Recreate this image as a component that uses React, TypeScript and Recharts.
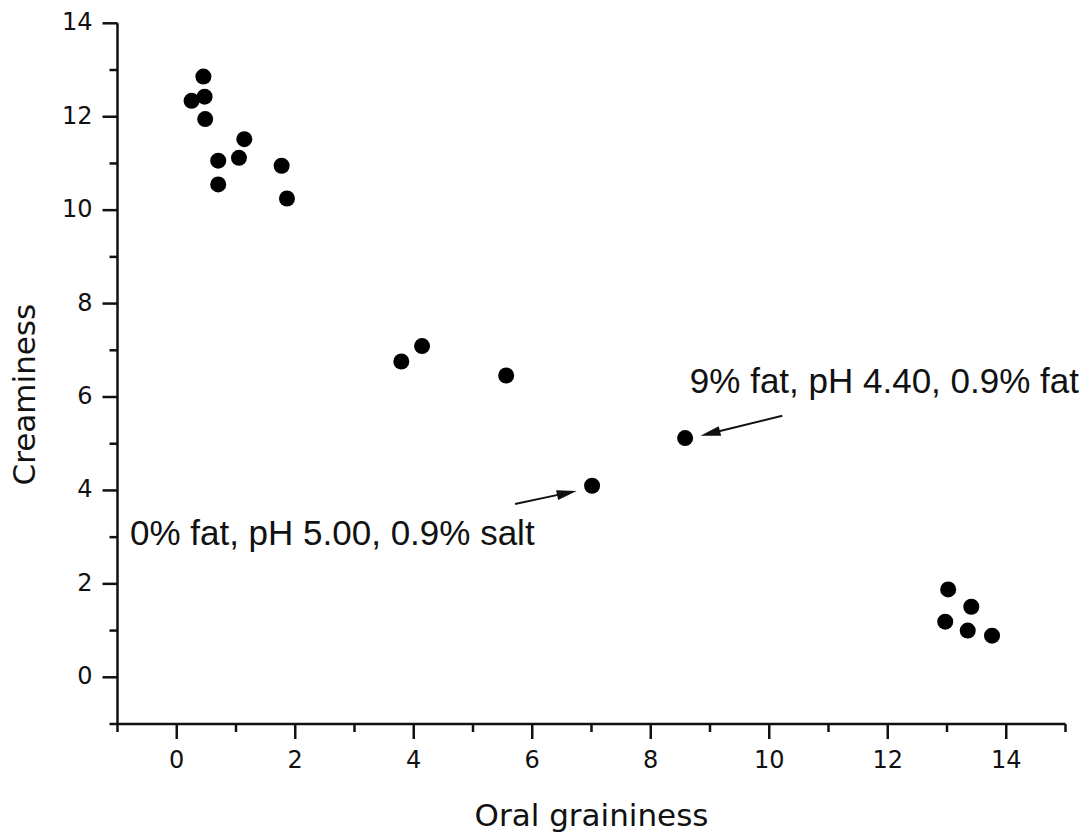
import React from 'react';
import { ScatterChart, Scatter, XAxis, YAxis, ReferenceLine, ReferenceDot } from 'recharts';

// values
const graininess = [0.45, 0.47, 0.25, 0.48, 1.14, 0.7, 1.05, 1.77, 0.7, 1.86, 3.79, 4.14, 5.56, 8.58, 7.01, 13.02, 13.41, 12.97, 13.35, 13.76];
const creaminess = [12.86, 12.43, 12.34, 11.95, 11.52, 11.06, 11.12, 10.95, 10.55, 10.25, 6.76, 7.09, 6.46, 5.12, 4.1, 1.88, 1.51, 1.19, 1.0, 0.89];

const xTicks = [-1, 0, 1, 2, 3, 4, 5, 6, 7, 8, 9, 10, 11, 12, 13, 14, 15];
const yTicks = [-1, 0, 1, 2, 3, 4, 5, 6, 7, 8, 9, 10, 11, 12, 13, 14];
const labelledTicks = [0, 2, 4, 6, 8, 10, 12, 14];

const noteHigh = '9% fat, pH 4.40, 0.9% fat';
const noteLow = '0% fat, pH 5.00, 0.9% salt';

const points = graininess.map((x, i) => ({ x, y: creaminess[i] }));

const INK = '#111';
const AXIS_FONT = '"DejaVu Sans", Verdana, sans-serif';
const NOTE_FONT = '"Liberation Sans", Arial, sans-serif';

const XTick = ({ x, y, payload }: any) => {
  const v = payload.value;
  const major = v % 2 === 0;
  return (
    <g>
      <line x1={x} y1={y} x2={x} y2={y + (major ? 15 : 8)} stroke={INK} strokeWidth={2.5} />
      {labelledTicks.includes(v) && (
        <text x={x} y={y + 44} textAnchor="middle" fontSize={24} fontFamily={AXIS_FONT} fill={INK}>
          {v}
        </text>
      )}
    </g>
  );
};

const YTick = ({ x, y, payload }: any) => {
  const v = payload.value;
  const major = v % 2 === 0;
  return (
    <g>
      <line x1={x} y1={y} x2={x - (major ? 15 : 8)} y2={y} stroke={INK} strokeWidth={2.5} />
      {labelledTicks.includes(v) && (
        <text x={x - 25} y={y + 7} textAnchor="end" fontSize={24} fontFamily={AXIS_FONT} fill={INK}>
          {v}
        </text>
      )}
    </g>
  );
};

const Arrow = (p: any) => {
  const { x1, y1, x2, y2 } = p;
  const dx = x2 - x1;
  const dy = y2 - y1;
  const len = Math.hypot(dx, dy) || 1;
  const ux = dx / len;
  const uy = dy / len;
  const head = 20;
  const half = 5;
  const bx = x2 - ux * head;
  const by = y2 - uy * head;
  const pts = `${x2},${y2} ${bx - uy * half},${by + ux * half} ${bx + uy * half},${by - ux * half}`;
  return (
    <g>
      <line x1={x1} y1={y1} x2={bx + ux * 2} y2={by + uy * 2} stroke={INK} strokeWidth={2} />
      <polygon points={pts} fill={INK} />
    </g>
  );
};

const note = (text: string) => (p: any) => (
  <text x={p.cx} y={p.cy} fontSize={35} fontFamily={NOTE_FONT} fill="#111">
    {text}
  </text>
);

const Dot = (p: any) => <circle cx={p.cx} cy={p.cy} r={8} fill="#000" />;

export default function App() {
  return (
    <div style={{ position: 'absolute', left: 0, top: 0, width: 1086, height: 832, background: '#fff' }}>
      <ScatterChart width={1086} height={832} margin={{ top: 23.3, right: 20.5, bottom: 48, left: 57.5 }}>
        <XAxis
          type="number"
          dataKey="x"
          domain={[-1, 15]}
          ticks={xTicks}
          interval={0}
          tickSize={0}
          tickMargin={0}
          tickLine={false}
          tick={<XTick />}
          height={60}
          axisLine={{ stroke: INK, strokeWidth: 2.5 }}
          label={{
            content: (p: any) => {
              const vb = p.viewBox;
              return (
                <text x={vb.x + vb.width / 2} y={vb.y + 102} textAnchor="middle" fontSize={31} fontFamily={AXIS_FONT} fill={INK}>
                  Oral graininess
                </text>
              );
            },
          }}
        />
        <YAxis
          type="number"
          dataKey="y"
          domain={[-1, 14]}
          ticks={yTicks}
          interval={0}
          tickSize={0}
          tickMargin={0}
          tickLine={false}
          tick={<YTick />}
          width={60}
          axisLine={{ stroke: INK, strokeWidth: 2.5 }}
          label={{
            content: (p: any) => {
              const vb = p.viewBox;
              const cx = vb.x - 22.5;
              const cy = vb.y + vb.height / 2 + 21;
              return (
                <text x={cx} y={cy} transform={`rotate(-90 ${cx} ${cy})`} textAnchor="middle" fontSize={31} fontFamily={AXIS_FONT} fill={INK}>
                  Creaminess
                </text>
              );
            },
          }}
        />
        <Scatter data={points} shape={Dot} isAnimationActive={false} />
        <ReferenceLine segment={[{ x: 10.22, y: 5.6 }, { x: 8.84, y: 5.17 }]} shape={Arrow} />
        <ReferenceLine segment={[{ x: 5.71, y: 3.71 }, { x: 6.75, y: 3.99 }]} shape={Arrow} />
        <ReferenceDot x={8.66} y={6.09} r={0} shape={note(noteHigh)} />
        <ReferenceDot x={-0.79} y={2.84} r={0} shape={note(noteLow)} />
      </ScatterChart>
    </div>
  );
}
